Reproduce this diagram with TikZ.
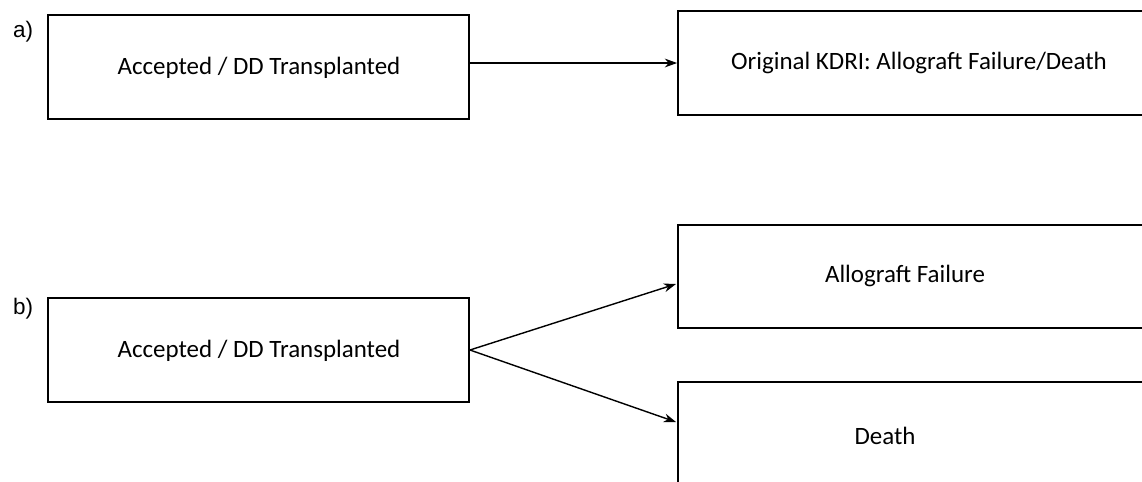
\documentclass[tikz,border=0pt]{standalone}
\usepackage{fontspec}
\setmainfont{Carlito}
\newfontfamily\arialfont{Liberation Sans}
\usetikzlibrary{positioning,arrows.meta}
\tikzset{
  stagebox/.style={draw, line width=1.1pt, rectangle, inner sep=0pt, minimum height=2.08cm},
  boxtext/.style={font=\fontsize{14.2}{17}\selectfont},
  partlabel/.style={font=\arialfont\fontsize{12.8}{15}\selectfont},
  flow/.style={-{Stealth[length=7pt,width=5pt]}, line width=0.8pt}
}
\begin{document}
\begin{tikzpicture}[x=0.02cm,y=-0.02cm]
\useasboundingbox (0,0) rectangle (1142,481);
\clip (0,0) rectangle (1142,481);
% a)
\node[partlabel] (la) at (23,32) {a)};
\node[stagebox, minimum width=8.42cm] (aleft) at (258.5,67) {};
\node[stagebox, minimum width=10cm] (aright) at (928,63) {};
\node[boxtext] (taleft) at (259,68) {Accepted / DD Transplanted};
\node[boxtext] (taright) at (919,63) {Original KDRI: Allograft Failure/Death};
\draw[flow, line width=0.6pt] (aleft.east |- aright.west) -- (aright.west);
% b)
\node[partlabel] (lb) at (23,309) {b)};
\node[stagebox, minimum width=8.42cm] (bleft) at (258.5,350) {};
\node[stagebox, minimum width=10cm, minimum height=2.06cm] (btop) at (928,276.5) {};
\node[stagebox, minimum width=10cm, minimum height=4cm] (bbot) at (928,482) {};
\node[boxtext] (tbleft) at (259,351) {Accepted / DD Transplanted};
\node[boxtext] (tfailure) at (905,276) {Allograft Failure};
\node[boxtext] (tdeath) at (885,436) {Death};
\coordinate (efailure) at (676,284);
\coordinate (edeath) at (676,422);
\draw[flow] (bleft.east) -- (efailure);
\draw[flow] (bleft.east) -- (edeath);
\end{tikzpicture}
\end{document}
